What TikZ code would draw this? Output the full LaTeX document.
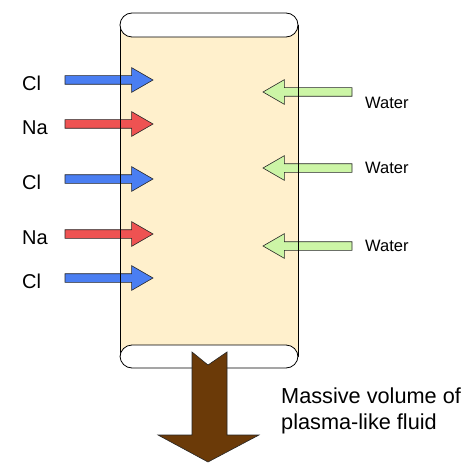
\documentclass[tikz,border=0pt]{standalone}
\usepackage{fontspec}
\setmainfont{Liberation Sans}
\usetikzlibrary{shapes.arrows,positioning}
\definecolor{tubefill}{HTML}{FFF0CC}
\definecolor{clblue}{HTML}{4A7EF2}
\definecolor{nared}{HTML}{EE5252}
\definecolor{watergreen}{HTML}{CCF5A6}
\definecolor{fluidbrown}{HTML}{6B3A08}
\tikzset{
  ionarrow/.style={
    single arrow, draw=black!85, fill=#1, line width=0.6pt,
    minimum height=88pt, inner xsep=0pt, inner ysep=4pt, outer sep=0pt,
    single arrow head extend=8pt, single arrow tip angle=60,
    anchor=tail
  },
  ionarrow/.default=clblue,
  waterarrow/.style={
    ionarrow=watergreen, shape border rotate=180, minimum height=89pt
  },
  ionlabel/.style={font=\fontsize{20}{24}\selectfont, inner sep=0pt, anchor=west},
  waterlabel/.style={font=\fontsize{16.5}{20}\selectfont, inner sep=0pt, anchor=west},
  capbox/.style={draw=black, fill=white, line width=0.8pt, rounded corners=12pt},
}
\begin{document}
\begin{tikzpicture}[x=1pt, y=-1pt]
  \useasboundingbox (0,0) rectangle (470,473);
  % tube body
  \fill[tubefill] (120,25) rectangle (298,357);
  % ions coming in from the left
  \node[ionarrow] (cl1) at (65,80) {};
  \node[ionarrow=nared] (na1) at (65,124) {};
  \node[ionarrow] (cl2) at (65,179) {};
  \node[ionarrow=nared] (na2) at (65,234) {};
  \node[ionarrow] (cl3) at (65,278) {};
  \node[ionlabel] (lcl1) at (22,83) {Cl};
  \node[ionlabel] (lna1) at (22,128) {Na};
  \node[ionlabel] (lcl2) at (22,182) {Cl};
  \node[ionlabel] (lna2) at (22,238) {Na};
  \node[ionlabel] (lcl3) at (22,281) {Cl};
  % water coming in from the right
  \node[waterarrow] (w1) at (352,92) {};
  \node[waterarrow] (w2) at (352,168) {};
  \node[waterarrow] (w3) at (352,246) {};
  \node[waterlabel] (lw1) at (365,103) {Water};
  \node[waterlabel] (lw2) at (365,168) {Water};
  \node[waterlabel] (lw3) at (365,246) {Water};
  % tube walls and ends
  \draw[line width=0.8pt] (120,25) -- (120,357) (298,25) -- (298,357);
  \draw[capbox] (120,13) rectangle (298,37);
  \draw[capbox] (120,345) rectangle (298,368);
  % outflow
  \draw[fill=fluidbrown, draw=black!85, line width=0.6pt]
    (192,352) -- (208,365) -- (227,352) -- (227,435) -- (259,435)
    -- (208,462) -- (158,435) -- (192,435) -- cycle;
  \node[font=\fontsize{21.7}{26.5}\selectfont, align=left, inner sep=0pt,
    anchor=west] (fluid) at (281,411) {Massive volume of\\plasma-like fluid};
\end{tikzpicture}
\end{document}
